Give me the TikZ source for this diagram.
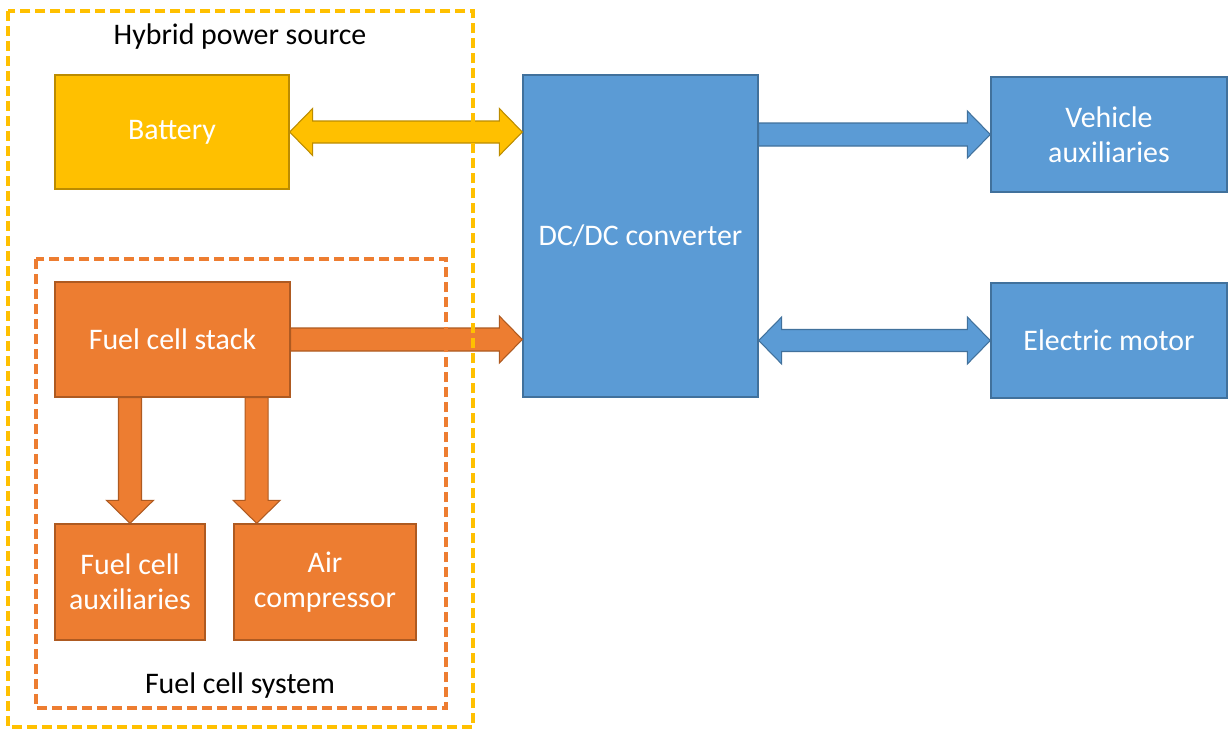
\documentclass[tikz,border=0pt]{standalone}
\usepackage{fontspec}
\setmainfont{Carlito}
\usetikzlibrary{calc}

\definecolor{ambfill}{HTML}{FFC000}
\definecolor{ambline}{HTML}{BC8C00}
\definecolor{orfill}{HTML}{ED7D31}
\definecolor{orline}{HTML}{AE5A21}
\definecolor{blfill}{HTML}{5B9BD5}
\definecolor{blline}{HTML}{41719C}

% single block arrow: #1 colours, #2 from, #3 to
\newcommand{\blockarrow}[3]{%
  \path (#2) coordinate (ta) (#3) coordinate (tb);
  \path ($(tb)!0.46cm!(ta)$) coordinate (hb);
  \filldraw[line width=0.6pt,#1] ($(ta)!0.23cm!90:(tb)$) -- ($(hb)!0.23cm!90:(tb)$)
    -- ($(hb)!0.47cm!90:(tb)$) -- (tb) -- ($(hb)!0.47cm!-90:(tb)$)
    -- ($(hb)!0.23cm!-90:(tb)$) -- ($(ta)!0.23cm!-90:(tb)$) -- cycle;}
% double block arrow
\newcommand{\twowayarrow}[3]{%
  \path (#2) coordinate (ta) (#3) coordinate (tb);
  \path ($(ta)!0.46cm!(tb)$) coordinate (ha) ($(tb)!0.46cm!(ta)$) coordinate (hb);
  \filldraw[line width=0.6pt,#1] (ta) -- ($(ha)!0.47cm!90:(tb)$) -- ($(ha)!0.22cm!90:(tb)$)
    -- ($(hb)!0.22cm!90:(tb)$) -- ($(hb)!0.47cm!90:(tb)$) -- (tb)
    -- ($(hb)!0.47cm!-90:(tb)$) -- ($(hb)!0.22cm!-90:(tb)$)
    -- ($(ha)!0.22cm!-90:(tb)$) -- ($(ha)!0.47cm!-90:(tb)$) -- cycle;}

\begin{document}
\begin{tikzpicture}[x=0.02cm,y=-0.02cm,
	every node/.style={font=\fontsize{17}{20}\selectfont,align=center,inner sep=0},
	box/.style={draw,line width=0.8pt,text=white},
	ambbox/.style={box,fill=ambfill,draw=ambline},
	orbox/.style={box,fill=orfill,draw=orline},
	blbox/.style={box,fill=blfill,draw=blline},
	frame/.style={line width=2.4pt,dash pattern=on 0.2cm off 0.1cm}]
\useasboundingbox (0,0) rectangle (1232,744);

\node[ambbox,minimum width=4.68cm,minimum height=2.28cm] (bat) at (172,132) {Battery};
\node[orbox,minimum width=4.7cm,minimum height=2.3cm] (stack) at (172.5,339.5) {Fuel cell stack};
\node[orbox,minimum width=3cm,minimum height=2.32cm] (fcaux) at (130,582) {Fuel cell\\auxiliaries};
\node[orbox,minimum width=3.64cm,minimum height=2.32cm] (air) at (325,582) {Air\\compressor};
\node[blbox,minimum width=4.7cm,minimum height=6.44cm] (dcdc) at (640.5,236) {DC/DC converter};
\node[blbox,minimum width=4.72cm,minimum height=2.3cm] (vaux) at (1109,134.5) {Vehicle\\auxiliaries};
\node[blbox,minimum width=4.72cm,minimum height=2.3cm] (motor) at (1109,340.5) {Electric motor};

\coordinate (split) at ($(stack.south east)+(-34,0)$);

\twowayarrow{fill=ambfill,draw=ambline}{bat.east}{bat.east -| dcdc.west}
\blockarrow{fill=orfill,draw=orline}{stack.east}{stack.east -| dcdc.west}
\blockarrow{fill=blfill,draw=blline}{dcdc.east |- vaux.west}{vaux.west}
\twowayarrow{fill=blfill,draw=blline}{dcdc.east |- motor.west}{motor.west}
\blockarrow{fill=orfill,draw=orline}{stack.south -| fcaux.north}{fcaux.north}
\blockarrow{fill=orfill,draw=orline}{split}{split |- air.north}

% dashed groups
\draw[frame,orfill] (36,259) rectangle (446,708);
\draw[frame,ambfill] (8,11) rectangle (473,727);
\node (hybrid) at (240,37) {Hybrid power source};
\node (fcsys) at (240,686) {Fuel cell system};
\end{tikzpicture}
\end{document}
